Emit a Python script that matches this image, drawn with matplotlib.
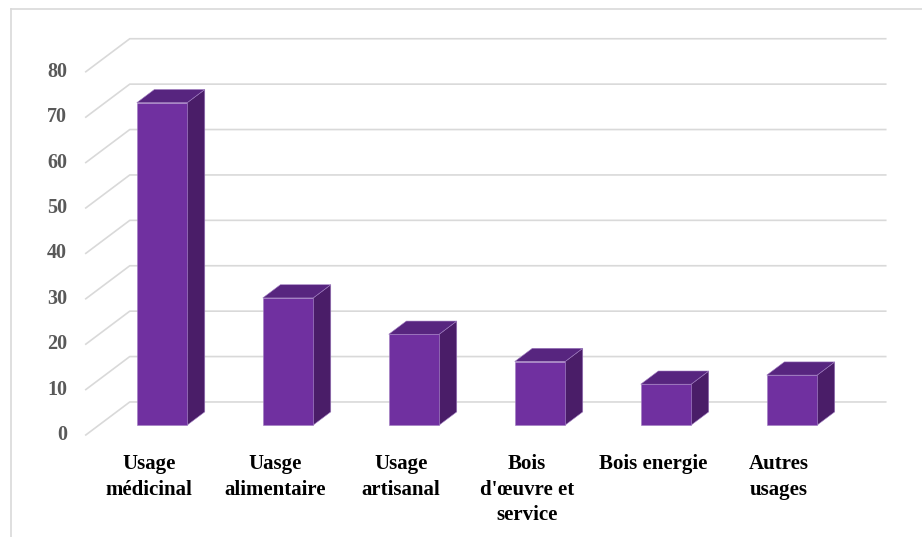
import numpy as np
import matplotlib.pyplot as plt
from matplotlib.patches import Polygon

categories = ['Usage\nmédicinal', 'Uasge\nalimentaire', 'Usage\nartisanal',
              "Bois\nd'œuvre et\nservice", 'Bois energie', 'Autres\nusages']
values = [71, 28, 20, 14, 9, 11]
yticks = [0, 10, 20, 30, 40, 50, 60, 70, 80]

# oblique "3d" offsets (full depth of the plot box)
DX, DY = 0.349, 7.27
W = 0.4
front_c, side_c, top_c = '#7030A0', '#4A1D68', '#57257F'
grid_c = '#D9D9D9'

def proj(x, v, d):
    return (x + d * DX, v + d * DY)

plt.rcParams['font.family'] = ['Liberation Serif', 'DejaVu Serif']
fig = plt.figure(figsize=(9.22, 5.37), dpi=100)
ax = fig.add_axes([0, 0, 1, 1])
ax.set_xlim(-1.181, 6.137)
ax.set_ylim(-22.47, 95.8)
ax.axis('off')

# chart frame
fig.add_artist(plt.Line2D([11/922, 11/922], [0, 1 - 9/537], color=grid_c, lw=1.2))
fig.add_artist(plt.Line2D([11/922, 1], [1 - 9/537, 1 - 9/537], color=grid_c, lw=1.2))

x0, x1 = -0.5, len(values) - 0.5
for v in yticks:
    p0 = proj(x0, v, 0); p1 = proj(x0, v, 1); p2 = proj(x1, v, 1)
    ax.plot([p0[0], p1[0], p2[0]], [p0[1], p1[1], p2[1]], color=grid_c, lw=1.2, zorder=1)
    ax.text(x0 - 0.15, v, str(v), ha='right', va='center', fontsize=14.5,
            fontweight='bold', color='#595959')

for k, v in enumerate(values):
    a, b = k - W/2, k + W/2
    front = [proj(a, 0, .3), proj(b, 0, .3), proj(b, v, .3), proj(a, v, .3)]
    side = [proj(b, 0, .3), proj(b, 0, .7), proj(b, v, .7), proj(b, v, .3)]
    top = [proj(a, v, .3), proj(b, v, .3), proj(b, v, .7), proj(a, v, .7)]
    for pts, c in ((side, side_c), (top, top_c), (front, front_c)):
        ax.add_patch(Polygon(pts, closed=True, facecolor=c, edgecolor='#9F7CC0',
                             lw=0.4, zorder=3))
    ax.text(k, -4.2, categories[k], ha='center', va='top', fontsize=15,
            fontweight='bold', color='black', linespacing=1.38)

fig.savefig('out.png', dpi=100)
